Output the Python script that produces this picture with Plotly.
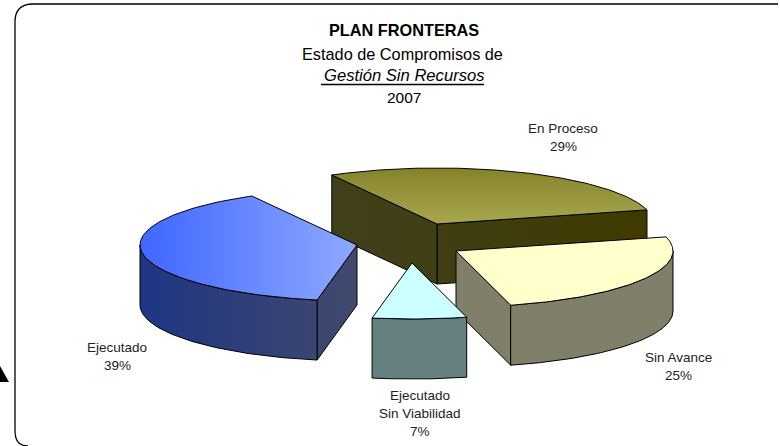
import math
import plotly.graph_objects as go

# Data
categories = ["Ejecutado", "Ejecutado<br>Sin Viabilidad", "Sin Avance", "En Proceso"]
values = [39, 7, 25, 29]

# Styling / layout of the exploded pseudo-3D pie
START_ANGLE = 119.0
CENTER = (410.0, 245.0)
RX, RY, DEPTH = 217.0, 56.0, 60.0
EXPLODE = [(-53, 0), (2, 18), (46, 6), (27, -21)]
TOP_FILL = [
    ("horizontal", 140, 357, ["#3F66FF", "#8FA9FF"]),
    ("horizontal", 0, 1, ["#CCFFFF", "#CCFFFF"]),
    ("horizontal", 0, 1, ["#FFFFCC", "#FFFFCC"]),
    ("vertical", 168, 224, ["#85832A", "#A8A750"]),
]
SIDE_FILL = [
    ("horizontal", 140, 357, ["#1F3585", "#41496C"]),
    ("horizontal", 0, 1, ["#668080", "#668080"]),
    ("horizontal", 0, 1, ["#80806A", "#80806A"]),
    ("horizontal", 333, 647, ["#40401C", "#403A00"]),
]
LABEL_POS = [(117, 347), (420, 395), (678, 357), (563, 128)]
LABEL_STEP = 18.3
DRAW_ORDER = [3, 0, 2, 1]

fig = go.Figure()


def poly(pts, fill):
    kind, start, stop, colors = fill
    xs = [p[0] for p in pts] + [pts[0][0]]
    ys = [p[1] for p in pts] + [pts[0][1]]
    fig.add_trace(go.Scatter(
        x=xs, y=ys, mode="lines", fill="toself",
        fillgradient=dict(type=kind, start=start, stop=stop,
                          colorscale=[[0, colors[0]], [1, colors[1]]]),
        line=dict(color="#000000", width=1),
        hoverinfo="skip", showlegend=False))


# Slice angles come from the values
total = sum(values)
spans = []
a = START_ANGLE
for v in values:
    spans.append((a, a + 360.0 * v / total))
    a += 360.0 * v / total


def rim(ax, ay, t, dz=0.0):
    r = math.radians(t)
    return (ax + RX * math.cos(r), ay - RY * math.sin(r) + dz)


for i in DRAW_ORDER:
    t0, t1 = spans[i]
    ax, ay = CENTER[0] + EXPLODE[i][0], CENTER[1] + EXPLODE[i][1]
    # cut faces, only those turned towards the viewer
    faces = []
    if math.cos(math.radians(t0)) > 0:
        faces.append(t0)
    if math.cos(math.radians(t1)) < 0:
        faces.append(t1)
    for t in faces:
        p = rim(ax, ay, t)
        q = rim(ax, ay, t, DEPTH)
        poly([(ax, ay), p, q, (ax, ay + DEPTH)], SIDE_FILL[i])
    # outer wall: the part of the rim facing the viewer
    lo, hi = max(t0, 180.0), min(t1, 360.0)
    if hi > lo:
        n = max(4, int(hi - lo))
        ts = [lo + (hi - lo) * k / n for k in range(n + 1)]
        poly([rim(ax, ay, t) for t in ts] + [rim(ax, ay, t, DEPTH) for t in reversed(ts)], SIDE_FILL[i])
    # top face
    n = max(6, int(t1 - t0))
    ts = [t0 + (t1 - t0) * k / n for k in range(n + 1)]
    poly([(ax, ay)] + [rim(ax, ay, t) for t in ts], TOP_FILL[i])

FONT = "Liberation Sans, Arial, sans-serif"
annotations = []
for name, v, (x, y) in zip(categories, values, LABEL_POS):
    for k, line in enumerate(name.split("<br>") + [f"{v}%"]):
        annotations.append(dict(x=x, y=y + k * LABEL_STEP, xref="x", yref="y", showarrow=False,
                                text=line, align="center",
                                font=dict(family=FONT, size=13.5, color="#222222")))
for text, x, y, size in [("<b>PLAN FRONTERAS</b>", 404, 30, 16.3),
                         ("Estado de Compromisos de", 402.5, 54, 16.3),
                         ("<i>Gestión Sin Recursos</i>", 403.5, 75, 16.6),
                         ("2007", 403.5, 97, 15.5)]:
    annotations.append(dict(x=x, y=y, xref="x", yref="y", showarrow=False, text=text,
                            font=dict(family=FONT, size=size, color="#000000")))

shapes = [
    dict(type="path", xref="x", yref="y", layer="below",
         path="M 778 4 L 33 4 Q 15 4 15 22 L 15 431 Q 15 446 28 446",
         line=dict(color="#000000", width=1.3)),
    dict(type="path", xref="x", yref="y", path="M 0 366 L 9 382 L 0 382 Z",
         fillcolor="#000000", line=dict(color="#000000", width=0)),
    dict(type="line", xref="x", yref="y", x0=321, x1=484, y0=84.5, y1=84.5,
         line=dict(color="#000000", width=1.4)),
]

fig.update_layout(
    width=780, height=446, autosize=False,
    margin=dict(l=0, r=0, t=0, b=0),
    paper_bgcolor="#FFFFFF", plot_bgcolor="#FFFFFF",
    xaxis=dict(range=[0, 780], visible=False, fixedrange=True),
    yaxis=dict(range=[446, 0], visible=False, fixedrange=True),
    annotations=annotations, shapes=shapes, showlegend=False,
)
fig.write_html("out.html", config={"displayModeBar": False},
               post_script="document.body.style.margin='0';document.documentElement.style.overflow='hidden';")
